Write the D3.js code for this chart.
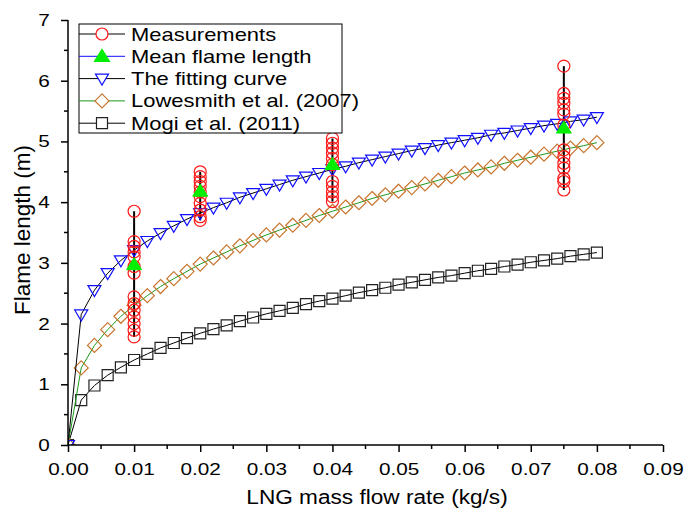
<!DOCTYPE html>
<html>
<head>
<meta charset="utf-8">
<script src="https://cdn.jsdelivr.net/npm/d3@7"></script>
<style>
  body { margin: 0; background: #fff; }
  text { font-family: Arial, "Liberation Sans", sans-serif; }
</style>
</head>
<body>
<div id="chart"></div>
<script>
// measured flame lengths, grouped by mass flow rate
var measX = [0.01, 0.02, 0.04, 0.075];
var measY = [
  [3.85, 3.35, 3.27, 3.18, 3.10, 2.94, 2.83, 2.44, 2.33, 2.22, 2.11, 2.00, 1.89, 1.78],
  [4.50, 4.42, 4.34, 4.26, 4.17, 4.09, 3.98, 3.87, 3.76, 3.70],
  [5.05, 4.97, 4.89, 4.81, 4.72, 4.62, 4.34, 4.26, 4.17, 4.09, 4.01],
  [6.24, 5.79, 5.71, 5.63, 5.52, 5.45, 5.27, 4.86, 4.75, 4.64, 4.56, 4.39, 4.34, 4.20]
];
var meanY = [2.97, 4.18, 4.62, 5.22];

var curveX = [0, 0.002, 0.004, 0.006, 0.008, 0.010, 0.012, 0.014, 0.016, 0.018, 0.020,
  0.022, 0.024, 0.026, 0.028, 0.030, 0.032, 0.034, 0.036, 0.038, 0.040,
  0.042, 0.044, 0.046, 0.048, 0.050, 0.052, 0.054, 0.056, 0.058, 0.060,
  0.062, 0.064, 0.066, 0.068, 0.070, 0.072, 0.074, 0.076, 0.078, 0.080];
var fitY = [0, 2.15, 2.55, 2.83, 3.04, 3.21, 3.36, 3.49, 3.61, 3.72, 3.82,
  3.91, 3.99, 4.08, 4.15, 4.22, 4.29, 4.36, 4.42, 4.48, 4.54,
  4.59, 4.65, 4.70, 4.75, 4.80, 4.85, 4.89, 4.94, 4.98, 5.02,
  5.06, 5.11, 5.14, 5.18, 5.22, 5.26, 5.29, 5.33, 5.36, 5.40];
var lowesmithY = [0, 1.27, 1.64, 1.90, 2.12, 2.30, 2.46, 2.61, 2.74, 2.86, 2.98,
  3.08, 3.18, 3.28, 3.37, 3.46, 3.54, 3.62, 3.70, 3.78, 3.85,
  3.92, 3.99, 4.06, 4.12, 4.18, 4.24, 4.30, 4.36, 4.42, 4.48,
  4.53, 4.58, 4.64, 4.69, 4.74, 4.79, 4.84, 4.89, 4.93, 4.98];
var mogiY = [0, 0.74, 0.98, 1.15, 1.28, 1.40, 1.50, 1.60, 1.68, 1.76, 1.84,
  1.91, 1.97, 2.04, 2.10, 2.16, 2.21, 2.26, 2.32, 2.37, 2.41,
  2.46, 2.51, 2.55, 2.59, 2.64, 2.68, 2.72, 2.76, 2.79, 2.83,
  2.87, 2.90, 2.94, 2.97, 3.01, 3.04, 3.07, 3.11, 3.14, 3.17];

var xTicks = [0, 0.01, 0.02, 0.03, 0.04, 0.05, 0.06, 0.07, 0.08, 0.09];
var yTicks = [0, 1, 2, 3, 4, 5, 6, 7];
var legendNames = ["Measurements", "Mean flame length", "The fitting curve",
  "Lowesmith et al. (2007)", "Mogi et al. (2011)"];

var width = 684, height = 514;
var margin = {left: 68, right: 21, top: 20, bottom: 69};
var stretch = 1.22; // the original text is a little wide

var svg = d3.select("#chart")
  .append("svg")
  .attr("width", width)
  .attr("height", height);

var x = d3.scaleLinear().domain([0, 0.09]).range([margin.left, width - margin.right]);
var y = d3.scaleLinear().domain([0, 7]).range([height - margin.bottom, margin.top]);

svg.append("clipPath")
  .attr("id", "plotClip")
  .append("rect")
  .attr("x", margin.left)
  .attr("y", margin.top - 10)
  .attr("width", width - margin.left - margin.right + 10)
  .attr("height", height - margin.top - margin.bottom + 10);

var plot = svg.append("g").attr("clip-path", "url(#plotClip)");

var sym = {
  circle: d3.symbol().type(d3.symbolCircle).size(Math.PI * 36)(),
  up: "M0,-7L7.5,5L-7.5,5Z",
  square: "M-5.5,-5.5H5.5V5.5H-5.5Z",
  diamond: "M0,-7L7,0L0,7L-7,0Z",
  down: "M-6.5,-4.5L6.5,-4.5L0,6.5Z"
};

var line = d3.line()
  .x(function(d) { return x(d[0]); })
  .y(function(d) { return y(d[1]); });

function drawSeries(ys, lineColor, shape, stroke, fill) {
  var pts = curveX.map(function(v, i) { return [v, ys[i]]; });
  plot.append("path")
    .attr("d", line(pts))
    .attr("fill", "none")
    .attr("stroke", lineColor)
    .attr("stroke-width", 1);
  plot.selectAll(null)
    .data(pts)
    .enter().append("path")
    .attr("d", sym[shape])
    .attr("transform", function(d) { return "translate(" + x(d[0]) + "," + y(d[1]) + ")"; })
    .attr("fill", fill)
    .attr("stroke", stroke)
    .attr("stroke-width", 1.2);
}

drawSeries(mogiY, "#000", "square", "#222", "none");
drawSeries(lowesmithY, "#1a9a1a", "diamond", "#c8752e", "none");

// vertical lines of the measurements
measX.forEach(function(mx, i) {
  var pts = measY[i].map(function(v) { return [mx, v]; });
  plot.append("path")
    .attr("d", line(pts))
    .attr("fill", "none")
    .attr("stroke", "#000")
    .attr("stroke-width", 2);
});

drawSeries(fitY, "#000", "down", "#1010ff", "none");

measX.forEach(function(mx, i) {
  plot.selectAll(null)
    .data(measY[i])
    .enter().append("path")
    .attr("d", sym.circle)
    .attr("transform", function(d) { return "translate(" + x(mx) + "," + y(d) + ")"; })
    .attr("fill", "none")
    .attr("stroke", "#ff1a1a")
    .attr("stroke-width", 1.2);
});

plot.selectAll(null)
  .data(meanY)
  .enter().append("path")
  .attr("d", sym.up)
  .attr("transform", function(d, i) { return "translate(" + x(measX[i]) + "," + y(d) + ")"; })
  .attr("fill", "#00ee00")
  .attr("stroke", "#00ee00");

// axes
var xAxis = svg.append("g")
  .attr("transform", "translate(0," + y(0) + ")")
  .call(d3.axisBottom(x).tickValues(xTicks).tickSize(7).tickPadding(11)
    .tickFormat(d3.format(".2f")));
xAxis.append("g").selectAll("line")
  .data(d3.range(0.005, 0.09, 0.01))
  .enter().append("line")
  .attr("x1", function(d) { return x(d); })
  .attr("x2", function(d) { return x(d); })
  .attr("y1", 0).attr("y2", 4)
  .attr("stroke", "#000").attr("stroke-width", 1.5);

var yAxis = svg.append("g")
  .attr("transform", "translate(" + x(0) + ",0)")
  .call(d3.axisLeft(y).tickValues(yTicks).tickSize(7).tickPadding(8)
    .tickFormat(d3.format("d")));
yAxis.append("g").selectAll("line")
  .data(d3.range(0.5, 7, 1))
  .enter().append("line")
  .attr("y1", function(d) { return y(d); })
  .attr("y2", function(d) { return y(d); })
  .attr("x1", 0).attr("x2", -4)
  .attr("stroke", "#000").attr("stroke-width", 1.5);

svg.selectAll(".domain").attr("stroke", "#000").attr("stroke-width", 1.5);
svg.selectAll(".tick line").attr("stroke", "#000").attr("stroke-width", 1.5);
svg.selectAll(".tick text").attr("font-size", 17).attr("fill", "#000")
  .attr("font-family", "Arial, 'Liberation Sans', sans-serif")
  .attr("transform", "scale(" + stretch + ",1)");
xAxis.selectAll(".domain").attr("d", "M" + x(0) + ",0H" + x(0.09));
yAxis.selectAll(".domain").attr("d", "M0," + y(0) + "V" + y(7));

svg.append("text")
  .attr("transform", "translate(377,504) scale(1.16,1)")
  .attr("text-anchor", "middle")
  .attr("font-size", 19.5)
  .text("LNG mass flow rate (kg/s)");

svg.append("text")
  .attr("transform", "translate(30,230) rotate(-90)")
  .attr("text-anchor", "middle")
  .attr("font-size", 22.5)
  .text("Flame length (m)");

// legend
var legend = svg.append("g").attr("transform", "translate(79,24)");
legend.append("rect")
  .attr("width", 263)
  .attr("height", 109)
  .attr("fill", "#fff")
  .attr("stroke", "#000")
  .attr("stroke-width", 1);

var legendItems = [
  {line: "#000", shape: "circle", stroke: "#ff1a1a", fill: "none"},
  {line: "#1010ff", shape: "up", stroke: "#00ee00", fill: "#00ee00"},
  {line: "#000", shape: "down", stroke: "#1010ff", fill: "none"},
  {line: "#1a9a1a", shape: "diamond", stroke: "#c8752e", fill: "none"},
  {line: "#000", shape: "square", stroke: "#222", fill: "none"}
];

legendItems.forEach(function(d, i) {
  var ly = 10 + i * 22.3;
  var row = legend.append("g").attr("transform", "translate(0," + ly + ")");
  row.append("line")
    .attr("x1", 0).attr("x2", 46)
    .attr("stroke", d.line).attr("stroke-width", 1);
  row.append("path")
    .attr("d", sym[d.shape])
    .attr("transform", "translate(23,0)")
    .attr("fill", d.fill == "none" ? "#fff" : d.fill)
    .attr("stroke", d.stroke)
    .attr("stroke-width", 1.2);
  row.append("text")
    .attr("transform", "translate(52,6.5) scale(" + stretch + ",1)")
    .attr("font-size", 18)
    .text(legendNames[i]);
});
</script>
</body>
</html>
